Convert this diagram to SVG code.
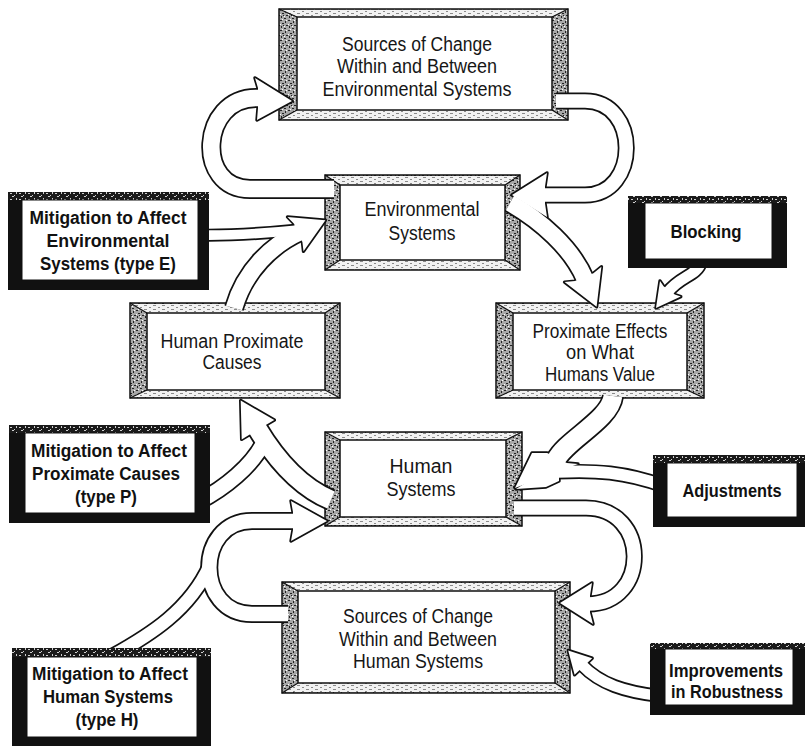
<svg xmlns="http://www.w3.org/2000/svg" width="805" height="746" viewBox="0 0 805 746">
<defs>
  <!-- speckled fill for the side bevels of the framed boxes -->
  <pattern id="grain" width="8" height="10" patternUnits="userSpaceOnUse">
    <rect width="8" height="10" fill="#a8a8a8"/>
    <path d="M0 0h2v1H0zM5 1h1v2H5zM2 3h2v1H2zM6 5h2v1H6zM1 6h1v2H1zM4 8h2v1H4zM3 5h1v1H3z" fill="#222"/>
    <path d="M6 0h1v1H6zM0 4h1v1H0zM4 6h1v1H4zM2 9h1v1H2z" fill="#fff"/>
  </pattern>
  <!-- lighter grain for top and bottom bevels -->
  <pattern id="grainLight" width="9" height="4" patternUnits="userSpaceOnUse">
    <rect width="9" height="4" fill="#f2f2f2"/>
    <path d="M0 1h3v1H0zM5 3h2v1H5z" fill="#8a8a8a"/>
  </pattern>
  <!-- speckled top strip of the black frames -->
  <pattern id="grainDark" width="9" height="6" patternUnits="userSpaceOnUse">
    <rect width="9" height="6" fill="#1a1a1a"/>
    <path d="M1 1h2v1H1zM5 3h1v1H5zM7 0h1v2H7zM3 4h2v1H3z" fill="#cfcfcf"/>
  </pattern>

  <!-- connector ribbons (centre lines) -->
  <path id="r1" d="M334 189H250C195 189 200 98 256 98H260"/>
  <path id="r2" d="M556 101H585C640 101 640 195 585 195H543"/>
  <path id="r3" d="M234 308C245 270 272 245 300 232"/>
  <path id="r3e" d="M196 235C235 236 268 233 298 230"/>
  <path id="r4" d="M510 203C540 220 572 248 585 279"/>
  <path id="r5" d="M701 262C697 276 680 276 668 292"/>
  <path id="r6" d="M613 396C610 420 566 440 556 460"/>
  <path id="r6a" d="M664 486C625 472 595 470 557 472"/>
  <path id="r7" d="M331 500C295 485 272 453 257 428"/>
  <path id="r7p" d="M198 502C225 488 252 466 264 442"/>
  <path id="r8" d="M288 614H252C195 614 195 521 252 521H295"/>
  <path id="r8h" d="M112 656C150 635 190 610 210 565"/>
  <path id="r9" d="M514 508H586C650 508 650 604 588 604"/>
  <path id="r10" d="M660 696C625 692 600 684 582 665"/>

  <!-- arrowheads -->
  <polygon id="h1" points="258,88 255,78 292,101 257,120 258,108"/>
  <polygon id="h2" points="545,186.5 547,173 512,195 547,217 545,203.5"/>
  <polygon id="h3" points="302.4,241.9 303.5,251.3 325.4,220.2 287.5,216.9 294,223.7"/>
  <polygon id="h4" points="593.4,273.3 601.4,266.7 596.6,306.7 564.6,282.1 575,281.1"/>
  <polygon id="h5" points="674.8,294.6 680.8,296.6 656,308 660,281 663.6,286.2"/>
  <polygon id="h6" points="566.8,463 578,464 515,488 532,453 547.2,453"/>
  <polygon id="h6a" points="559,462 516,489 546,487 559,481"/>
  <polygon id="h7" points="267.5,424.1 274.3,420 240.7,400.5 241.7,439.4 248.5,435.3"/>
  <polygon id="h8" points="293,512 291,501 327,521 291,541 293,530"/>
  <polygon id="h9" points="590,595.5 592,583 560,603 593,624 590,612.5"/>
  <polygon id="h10" points="588.5,661.7 592.2,658.2 568.2,650.4 574.6,674.8 578.3,671.3"/>
</defs>
<style>
  .frame{fill:url(#grain);stroke:#111;stroke-width:1.5}
  .bevel{fill:url(#grainLight);stroke:none}
  .face{fill:#fff;stroke:#111;stroke-width:1.5}
  .corner{fill:none;stroke:#111;stroke-width:1.2}
  .blk{fill:#111}
  .blktop{fill:url(#grainDark)}
  .blkface{fill:#fff;stroke:#111;stroke-width:1}
  .lbl{font-family:"Liberation Sans Narrow","Liberation Sans",Arial,sans-serif;font-size:20px;fill:#161616;text-anchor:middle}
  .lblb{font-family:"Liberation Sans Narrow","Liberation Sans",Arial,sans-serif;font-size:18px;font-weight:bold;fill:#111;text-anchor:middle}
  .rk{fill:none;stroke:#111;stroke-linecap:butt;stroke-linejoin:round}
  .rw{fill:none;stroke:#fff;stroke-linecap:butt;stroke-linejoin:round}
  .hk{fill:#111;stroke:#111;stroke-width:3.4;stroke-linejoin:round}
  .hw{fill:#fff;stroke:none}
</style>

<rect width="805" height="746" fill="#fff"/>

<!-- framed (bevelled) boxes -->
<g id="env-change-sources">
  <rect class="frame" x="279" y="9" width="289" height="111"/>
  <polygon class="bevel" points="280,10 567,10 552,17 297,17"/>
  <polygon class="bevel" points="280,119 567,119 552,110 297,110"/>
  <rect class="face" x="297" y="17" width="255" height="93"/>
  <path class="corner" d="M279 9L297 17M568 9L552 17M279 120L297 110M568 120L552 110"/>
  <text class="lbl" x="417" y="51" textLength="150" lengthAdjust="spacingAndGlyphs">Sources of Change</text>
  <text class="lbl" x="417" y="73" textLength="160" lengthAdjust="spacingAndGlyphs">Within and Between</text>
  <text class="lbl" x="417" y="96" textLength="189" lengthAdjust="spacingAndGlyphs">Environmental Systems</text>
</g>

<g id="environmental-systems">
  <rect class="frame" x="325" y="175" width="195" height="95"/>
  <polygon class="bevel" points="326,176 519,176 505,185 340,185"/>
  <polygon class="bevel" points="326,269 519,269 505,260 340,260"/>
  <rect class="face" x="340" y="185" width="165" height="75"/>
  <path class="corner" d="M325 175L340 185M520 175L505 185M325 270L340 260M520 270L505 260"/>
  <text class="lbl" x="422" y="216" textLength="115" lengthAdjust="spacingAndGlyphs">Environmental</text>
  <text class="lbl" x="422" y="240" textLength="67" lengthAdjust="spacingAndGlyphs">Systems</text>
</g>

<g id="human-proximate-causes">
  <rect class="frame" x="130" y="303" width="210" height="95"/>
  <polygon class="bevel" points="131,304 339,304 325,313 147,313"/>
  <polygon class="bevel" points="131,397 339,397 325,390 147,390"/>
  <rect class="face" x="147" y="313" width="178" height="77"/>
  <path class="corner" d="M130 303L147 313M340 303L325 313M130 398L147 390M340 398L325 390"/>
  <text class="lbl" x="232" y="348" textLength="143" lengthAdjust="spacingAndGlyphs">Human Proximate</text>
  <text class="lbl" x="232" y="369" textLength="59" lengthAdjust="spacingAndGlyphs">Causes</text>
</g>

<g id="proximate-effects">
  <rect class="frame" x="496" y="303" width="208" height="95"/>
  <polygon class="bevel" points="497,304 703,304 687,313 513,313"/>
  <polygon class="bevel" points="497,397 703,397 687,390 513,390"/>
  <rect class="face" x="513" y="313" width="174" height="77"/>
  <path class="corner" d="M496 303L513 313M704 303L687 313M496 398L513 390M704 398L687 390"/>
  <text class="lbl" x="600" y="338" textLength="135" lengthAdjust="spacingAndGlyphs">Proximate Effects</text>
  <text class="lbl" x="600" y="359" textLength="68" lengthAdjust="spacingAndGlyphs">on What</text>
  <text class="lbl" x="600" y="381" textLength="110" lengthAdjust="spacingAndGlyphs">Humans Value</text>
</g>

<g id="human-systems">
  <rect class="frame" x="325" y="432" width="197" height="94"/>
  <polygon class="bevel" points="326,433 521,433 506,440 340,440"/>
  <polygon class="bevel" points="326,525 521,525 506,517 340,517"/>
  <rect class="face" x="340" y="440" width="166" height="77"/>
  <path class="corner" d="M325 432L340 440M522 432L506 440M325 526L340 517M522 526L506 517"/>
  <text class="lbl" x="421" y="473" textLength="63" lengthAdjust="spacingAndGlyphs">Human</text>
  <text class="lbl" x="421" y="496" textLength="69" lengthAdjust="spacingAndGlyphs">Systems</text>
</g>

<g id="human-change-sources">
  <rect class="frame" x="282" y="582" width="288" height="111"/>
  <polygon class="bevel" points="283,583 569,583 555,591 298,591"/>
  <polygon class="bevel" points="283,692 569,692 555,683 298,683"/>
  <rect class="face" x="298" y="591" width="257" height="92"/>
  <path class="corner" d="M282 582L298 591M570 582L555 591M282 693L298 683M570 693L555 683"/>
  <text class="lbl" x="418" y="623" textLength="150" lengthAdjust="spacingAndGlyphs">Sources of Change</text>
  <text class="lbl" x="418" y="646" textLength="158" lengthAdjust="spacingAndGlyphs">Within and Between</text>
  <text class="lbl" x="418" y="668" textLength="130" lengthAdjust="spacingAndGlyphs">Human Systems</text>
</g>

<!-- hollow ribbon connectors: outlines first, then white bodies so that joined arrows merge -->
<g id="connectors">
  <g id="connector-outlines">
    <use href="#r1" class="rk" stroke-width="20"/>
    <use href="#r2" class="rk" stroke-width="17"/>
    <use href="#r3" class="rk" stroke-width="20"/>
    <use href="#r3e" class="rk" stroke-width="13"/>
    <use href="#r4" class="rk" stroke-width="20"/>
    <use href="#r5" class="rk" stroke-width="14"/>
    <use href="#r6" class="rk" stroke-width="22"/>
    <use href="#r6a" class="rk" stroke-width="15"/>
    <use href="#r7" class="rk" stroke-width="22"/>
    <use href="#r7p" class="rk" stroke-width="18"/>
    <use href="#r8" class="rk" stroke-width="18"/>
    <use href="#r8h" class="rk" stroke-width="16"/>
    <use href="#r9" class="rk" stroke-width="17"/>
    <use href="#r10" class="rk" stroke-width="14"/>
    <use href="#h1" class="hk"/>
    <use href="#h2" class="hk"/>
    <use href="#h3" class="hk"/>
    <use href="#h4" class="hk"/>
    <use href="#h5" class="hk"/>
    <use href="#h6" class="hk"/>
    <use href="#h6a" class="hk"/>
    <use href="#h7" class="hk"/>
    <use href="#h8" class="hk"/>
    <use href="#h9" class="hk"/>
    <use href="#h10" class="hk"/>
  </g>
  <g id="connector-bodies">
    <use href="#r1" class="rw" stroke-width="16.6"/>
    <use href="#r2" class="rw" stroke-width="13.6"/>
    <use href="#r3" class="rw" stroke-width="16.6"/>
    <use href="#r3e" class="rw" stroke-width="9.6"/>
    <use href="#r4" class="rw" stroke-width="16.6"/>
    <use href="#r5" class="rw" stroke-width="10.6"/>
    <use href="#r6" class="rw" stroke-width="18.6"/>
    <use href="#r6a" class="rw" stroke-width="11.6"/>
    <use href="#r7" class="rw" stroke-width="18.6"/>
    <use href="#r7p" class="rw" stroke-width="14.6"/>
    <use href="#r8" class="rw" stroke-width="14.6"/>
    <use href="#r8h" class="rw" stroke-width="12.6"/>
    <use href="#r9" class="rw" stroke-width="13.6"/>
    <use href="#r10" class="rw" stroke-width="10.6"/>
    <use href="#h1" class="hw"/>
    <use href="#h2" class="hw"/>
    <use href="#h3" class="hw"/>
    <use href="#h4" class="hw"/>
    <use href="#h5" class="hw"/>
    <use href="#h6" class="hw"/>
    <use href="#h6a" class="hw"/>
    <use href="#h7" class="hw"/>
    <use href="#h8" class="hw"/>
    <use href="#h9" class="hw"/>
    <use href="#h10" class="hw"/>
  </g>
</g>

<!-- black-framed intervention boxes -->
<g id="mitigation-environmental">
  <rect class="blk" x="8" y="192" width="201" height="98"/>
  <rect class="blktop" x="8" y="192" width="201" height="8"/>
  <rect class="blkface" x="22" y="200" width="176" height="80"/>
  <text class="lblb" x="108" y="224" textLength="157" lengthAdjust="spacingAndGlyphs">Mitigation to Affect</text>
  <text class="lblb" x="108" y="247" textLength="123" lengthAdjust="spacingAndGlyphs">Environmental</text>
  <text class="lblb" x="108" y="270" textLength="136" lengthAdjust="spacingAndGlyphs">Systems (type E)</text>
</g>

<g id="mitigation-proximate">
  <rect class="blk" x="9" y="425" width="201" height="98"/>
  <rect class="blktop" x="9" y="425" width="201" height="8"/>
  <rect class="blkface" x="25" y="433" width="170" height="80"/>
  <text class="lblb" x="109" y="457" textLength="156" lengthAdjust="spacingAndGlyphs">Mitigation to Affect</text>
  <text class="lblb" x="106" y="480" textLength="148" lengthAdjust="spacingAndGlyphs">Proximate Causes</text>
  <text class="lblb" x="106" y="503" textLength="62" lengthAdjust="spacingAndGlyphs">(type P)</text>
</g>

<g id="mitigation-human">
  <rect class="blk" x="12" y="648" width="199" height="98"/>
  <rect class="blktop" x="12" y="648" width="199" height="9"/>
  <rect class="blkface" x="27" y="657" width="170" height="80"/>
  <text class="lblb" x="110" y="680" textLength="156" lengthAdjust="spacingAndGlyphs">Mitigation to Affect</text>
  <text class="lblb" x="108" y="703" textLength="130" lengthAdjust="spacingAndGlyphs">Human Systems</text>
  <text class="lblb" x="107" y="726" textLength="63" lengthAdjust="spacingAndGlyphs">(type H)</text>
</g>

<g id="blocking">
  <rect class="blk" x="628" y="196" width="159" height="72"/>
  <rect class="blktop" x="628" y="196" width="159" height="7"/>
  <rect class="blkface" x="645" y="203" width="127" height="56"/>
  <text class="lblb" x="706" y="238" textLength="71" lengthAdjust="spacingAndGlyphs">Blocking</text>
</g>

<g id="adjustments">
  <rect class="blk" x="653" y="455" width="152" height="72"/>
  <rect class="blktop" x="653" y="455" width="152" height="8"/>
  <rect class="blkface" x="667" y="463" width="130" height="54"/>
  <text class="lblb" x="732" y="497" textLength="99" lengthAdjust="spacingAndGlyphs">Adjustments</text>
</g>

<g id="robustness">
  <rect class="blk" x="650" y="643" width="155" height="72"/>
  <rect class="blktop" x="650" y="643" width="155" height="6"/>
  <rect class="blkface" x="665" y="649" width="128" height="56"/>
  <text class="lblb" x="726" y="677" textLength="114" lengthAdjust="spacingAndGlyphs">Improvements</text>
  <text class="lblb" x="727" y="698" textLength="112" lengthAdjust="spacingAndGlyphs">in Robustness</text>
</g>
</svg>
